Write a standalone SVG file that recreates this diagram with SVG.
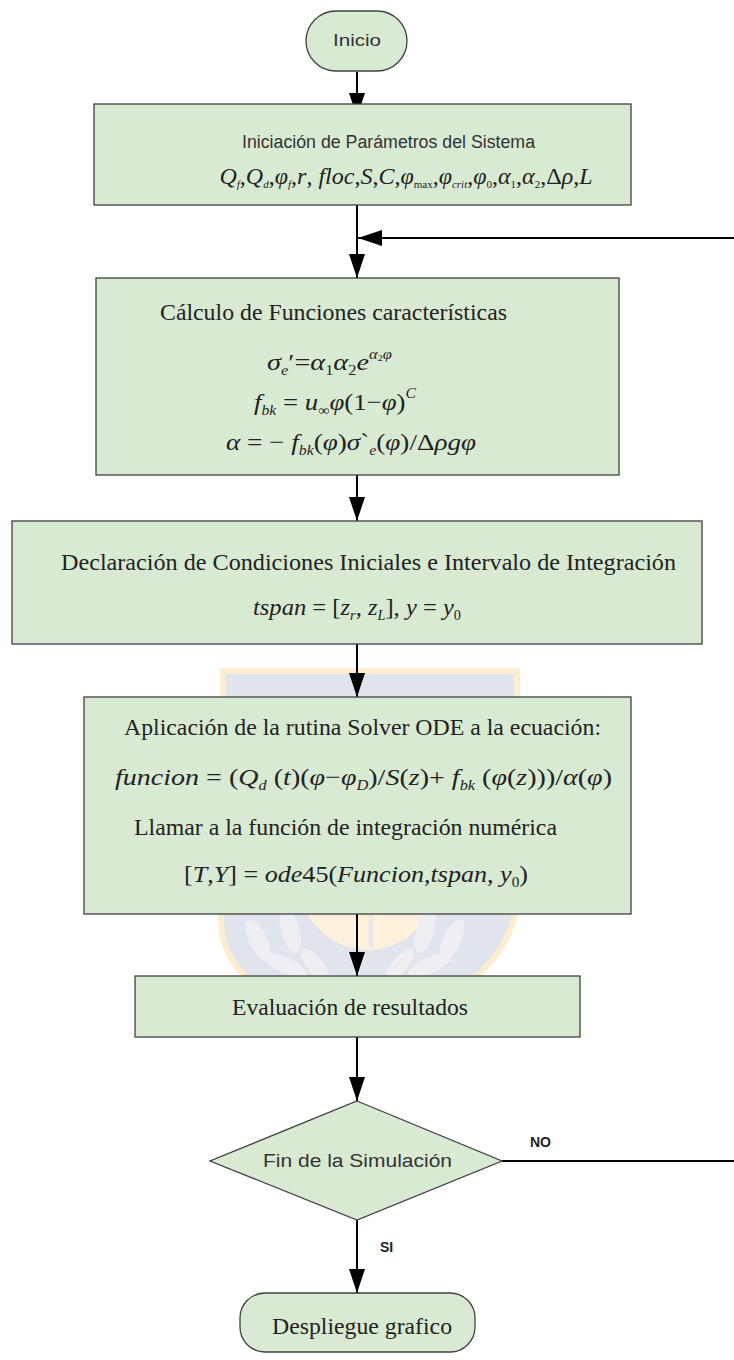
<svg xmlns="http://www.w3.org/2000/svg" width="734" height="1360" viewBox="0 0 734 1360">
<defs>
<style>
.box{fill:#d9ead3;stroke:#404040;stroke-width:1.3}
.con{fill:none;stroke:#000;stroke-width:2}
.g{font-family:"Liberation Sans",Arial,sans-serif;fill:#333}
.t{font-family:"Liberation Serif","Times New Roman",serif;fill:#222;font-size:24px}
.m{font-family:"Liberation Serif","Times New Roman",serif;fill:#222;font-size:24px;font-style:italic}
.u{font-style:normal}
.s{font-size:14px}
.lbl{font-family:"Liberation Sans",Arial,sans-serif;font-weight:bold;font-size:14px;fill:#222}
</style>
<marker id="ah" markerUnits="userSpaceOnUse" markerWidth="26" markerHeight="18" refX="24" refY="8" orient="auto">
<path d="M0,0 L24,8 L0,16 Z" fill="#000"/>
</marker>
</defs>
<rect width="734" height="1360" fill="#fff"/>

<g id="watermark" opacity="0.9">
<path d="M223,671 L517,671 L517,900 Q510,990 357,1035 Q204,990 223,900 Z" fill="#dde2ea" stroke="#fdebcc" stroke-width="6"/>
<ellipse cx="368" cy="870" rx="73" ry="80" fill="#fdf0d8"/>
<line x1="371" y1="905" x2="371" y2="948" stroke="#e3e6ec" stroke-width="4"/>
<g fill="#eceef2">
<ellipse cx="258" cy="940" rx="9" ry="22" transform="rotate(-25 258 940)"/>
<ellipse cx="290" cy="930" rx="9" ry="24" transform="rotate(-15 290 930)"/>
<ellipse cx="285" cy="965" rx="24" ry="8" transform="rotate(25 285 965)"/>
<ellipse cx="315" cy="965" rx="8" ry="20" transform="rotate(-40 315 965)"/>
<ellipse cx="452" cy="940" rx="9" ry="22" transform="rotate(25 452 940)"/>
<ellipse cx="425" cy="930" rx="9" ry="24" transform="rotate(15 425 930)"/>
<ellipse cx="430" cy="965" rx="24" ry="8" transform="rotate(-25 430 965)"/>
<ellipse cx="400" cy="965" rx="8" ry="20" transform="rotate(40 400 965)"/>
</g>
</g>

<g id="connectors">
<line class="con" x1="357" y1="72" x2="357" y2="117" marker-end="url(#ah)"/>
<line class="con" x1="357" y1="205" x2="357" y2="278" marker-end="url(#ah)"/>
<line class="con" x1="735" y1="238" x2="358" y2="238" marker-end="url(#ah)"/>
<line class="con" x1="357" y1="475" x2="357" y2="521" marker-end="url(#ah)"/>
<line class="con" x1="357" y1="644" x2="357" y2="697" marker-end="url(#ah)"/>
<line class="con" x1="357" y1="914" x2="357" y2="976" marker-end="url(#ah)"/>
<line class="con" x1="357" y1="1037" x2="357" y2="1101" marker-end="url(#ah)"/>
<line class="con" x1="502" y1="1161" x2="735" y2="1161"/>
<line class="con" x1="357" y1="1220" x2="357" y2="1293" marker-end="url(#ah)"/>
<text class="lbl" x="530" y="1147">NO</text>
<text class="lbl" x="380" y="1252">SI</text>
</g>

<g id="inicio">
<rect class="box" x="306" y="11" width="101" height="60" rx="30"/>
<text class="g" x="333" y="46" font-size="17" textLength="48" lengthAdjust="spacingAndGlyphs">Inicio</text>
</g>

<g id="parametros">
<rect class="box" x="94" y="104" width="537" height="101"/>
<text class="g" x="242" y="148" font-size="18" textLength="293" lengthAdjust="spacingAndGlyphs">Iniciación de Parámetros del Sistema</text>
<text class="m" x="406" y="184" font-size="19" text-anchor="middle">Q<tspan font-size="11" dy="4">f</tspan><tspan class="u" dy="-4">,</tspan>Q<tspan font-size="11" dy="4">d</tspan><tspan class="u" dy="-4">,</tspan>φ<tspan font-size="11" dy="4">f</tspan><tspan class="u" dy="-4">,</tspan>r<tspan class="u">, </tspan>floc<tspan class="u">,</tspan>S<tspan class="u">,</tspan>C<tspan class="u">,</tspan>φ<tspan class="u" font-size="11" dy="4">max</tspan><tspan class="u" dy="-4">,</tspan>φ<tspan font-size="11" dy="4">crit</tspan><tspan class="u" dy="-4">,</tspan>φ<tspan class="u" font-size="11" dy="4">0</tspan><tspan class="u" dy="-4">,</tspan>α<tspan class="u" font-size="11" dy="4">1</tspan><tspan class="u" dy="-4">,</tspan>α<tspan class="u" font-size="11" dy="4">2</tspan><tspan class="u" dy="-4">,Δ</tspan>ρ<tspan class="u">,</tspan>L</text>
</g>

<g id="funciones">
<rect class="box" x="96" y="278" width="523" height="197"/>
<text class="t" x="160" y="320" textLength="347" lengthAdjust="spacingAndGlyphs">Cálculo de Funciones características</text>
<text class="m" x="267" y="370" textLength="125" lengthAdjust="spacingAndGlyphs">σ<tspan class="s" dy="5">e</tspan><tspan class="u" dy="-5">′=</tspan>α<tspan class="s u" dy="5">1</tspan><tspan dy="-5">α</tspan><tspan class="s u" dy="5">2</tspan><tspan dy="-5">e</tspan><tspan class="s" dy="-11">α</tspan><tspan class="u" font-size="9" dy="2">2</tspan><tspan class="s" dy="-2">φ</tspan></text>
<text class="m" x="254" y="410" textLength="162" lengthAdjust="spacingAndGlyphs">f<tspan class="s" dy="5">bk</tspan><tspan class="u" dy="-5"> = </tspan>u<tspan class="s u" dy="5">∞</tspan><tspan dy="-5">φ</tspan><tspan class="u">(1−</tspan>φ<tspan class="u">)</tspan><tspan class="s" dy="-12">C</tspan></text>
<text class="m" x="226" y="450" textLength="250" lengthAdjust="spacingAndGlyphs">α<tspan class="u"> = − </tspan>f<tspan class="s" dy="5">bk</tspan><tspan class="u" dy="-5">(</tspan>φ<tspan class="u">)</tspan>σ<tspan class="u">`</tspan><tspan class="s" dy="5">e</tspan><tspan class="u" dy="-5">(</tspan>φ<tspan class="u">)/Δ</tspan>ρgφ</text>
</g>

<g id="condiciones">
<rect class="box" x="12" y="521" width="690" height="123"/>
<text class="t" x="61" y="570" textLength="615" lengthAdjust="spacingAndGlyphs">Declaración de Condiciones Iniciales e Intervalo de Integración</text>
<text class="m" x="253" y="615" textLength="208" lengthAdjust="spacingAndGlyphs">tspan<tspan class="u"> = [</tspan>z<tspan class="s" dy="5">r</tspan><tspan class="u" dy="-5">, </tspan>z<tspan class="s" dy="5">L</tspan><tspan class="u" dy="-5">], </tspan>y<tspan class="u"> = </tspan>y<tspan class="s u" dy="5">0</tspan></text>
</g>

<g id="solver">
<rect class="box" x="84" y="697" width="547" height="217"/>
<text class="t" x="124" y="735" textLength="477" lengthAdjust="spacingAndGlyphs">Aplicación de la rutina Solver ODE a la ecuación:</text>
<text class="m" x="115" y="785" textLength="497" lengthAdjust="spacingAndGlyphs">funcion<tspan class="u"> = (</tspan>Q<tspan class="s" dy="5">d</tspan><tspan class="u" dy="-5"> (</tspan>t<tspan class="u">)(</tspan>φ<tspan class="u">−</tspan>φ<tspan class="s" dy="5">D</tspan><tspan class="u" dy="-5">)/</tspan>S<tspan class="u">(</tspan>z<tspan class="u">)+ </tspan>f<tspan class="s" dy="5">bk</tspan><tspan class="u" dy="-5"> (</tspan>φ<tspan class="u">(</tspan>z<tspan class="u">)))/</tspan>α<tspan class="u">(</tspan>φ<tspan class="u">)</tspan></text>
<text class="t" x="134" y="835" textLength="423" lengthAdjust="spacingAndGlyphs">Llamar a la función de integración numérica</text>
<text class="m" x="184" y="882" textLength="344" lengthAdjust="spacingAndGlyphs"><tspan class="u">[</tspan>T<tspan class="u">,</tspan>Y<tspan class="u">]  =  </tspan>ode<tspan class="u">45(</tspan>Funcion<tspan class="u">,</tspan>tspan<tspan class="u">, </tspan>y<tspan class="s u" dy="5">0</tspan><tspan class="u" dy="-5">)</tspan></text>
</g>

<g id="evaluacion">
<rect class="box" x="135" y="976" width="445" height="61"/>
<text class="t" x="232" y="1015" textLength="236" lengthAdjust="spacingAndGlyphs">Evaluación de resultados</text>
</g>

<g id="fin">
<polygon class="box" points="357,1101 502,1161 357,1220 210,1161"/>
<text class="g" x="263" y="1167" font-size="18" textLength="189" lengthAdjust="spacingAndGlyphs">Fin de la Simulación</text>
</g>

<g id="despliegue">
<rect class="box" x="240" y="1293" width="235" height="59" rx="25"/>
<text class="t" x="272" y="1334" textLength="180" lengthAdjust="spacingAndGlyphs">Despliegue grafico</text>
</g>
</svg>
